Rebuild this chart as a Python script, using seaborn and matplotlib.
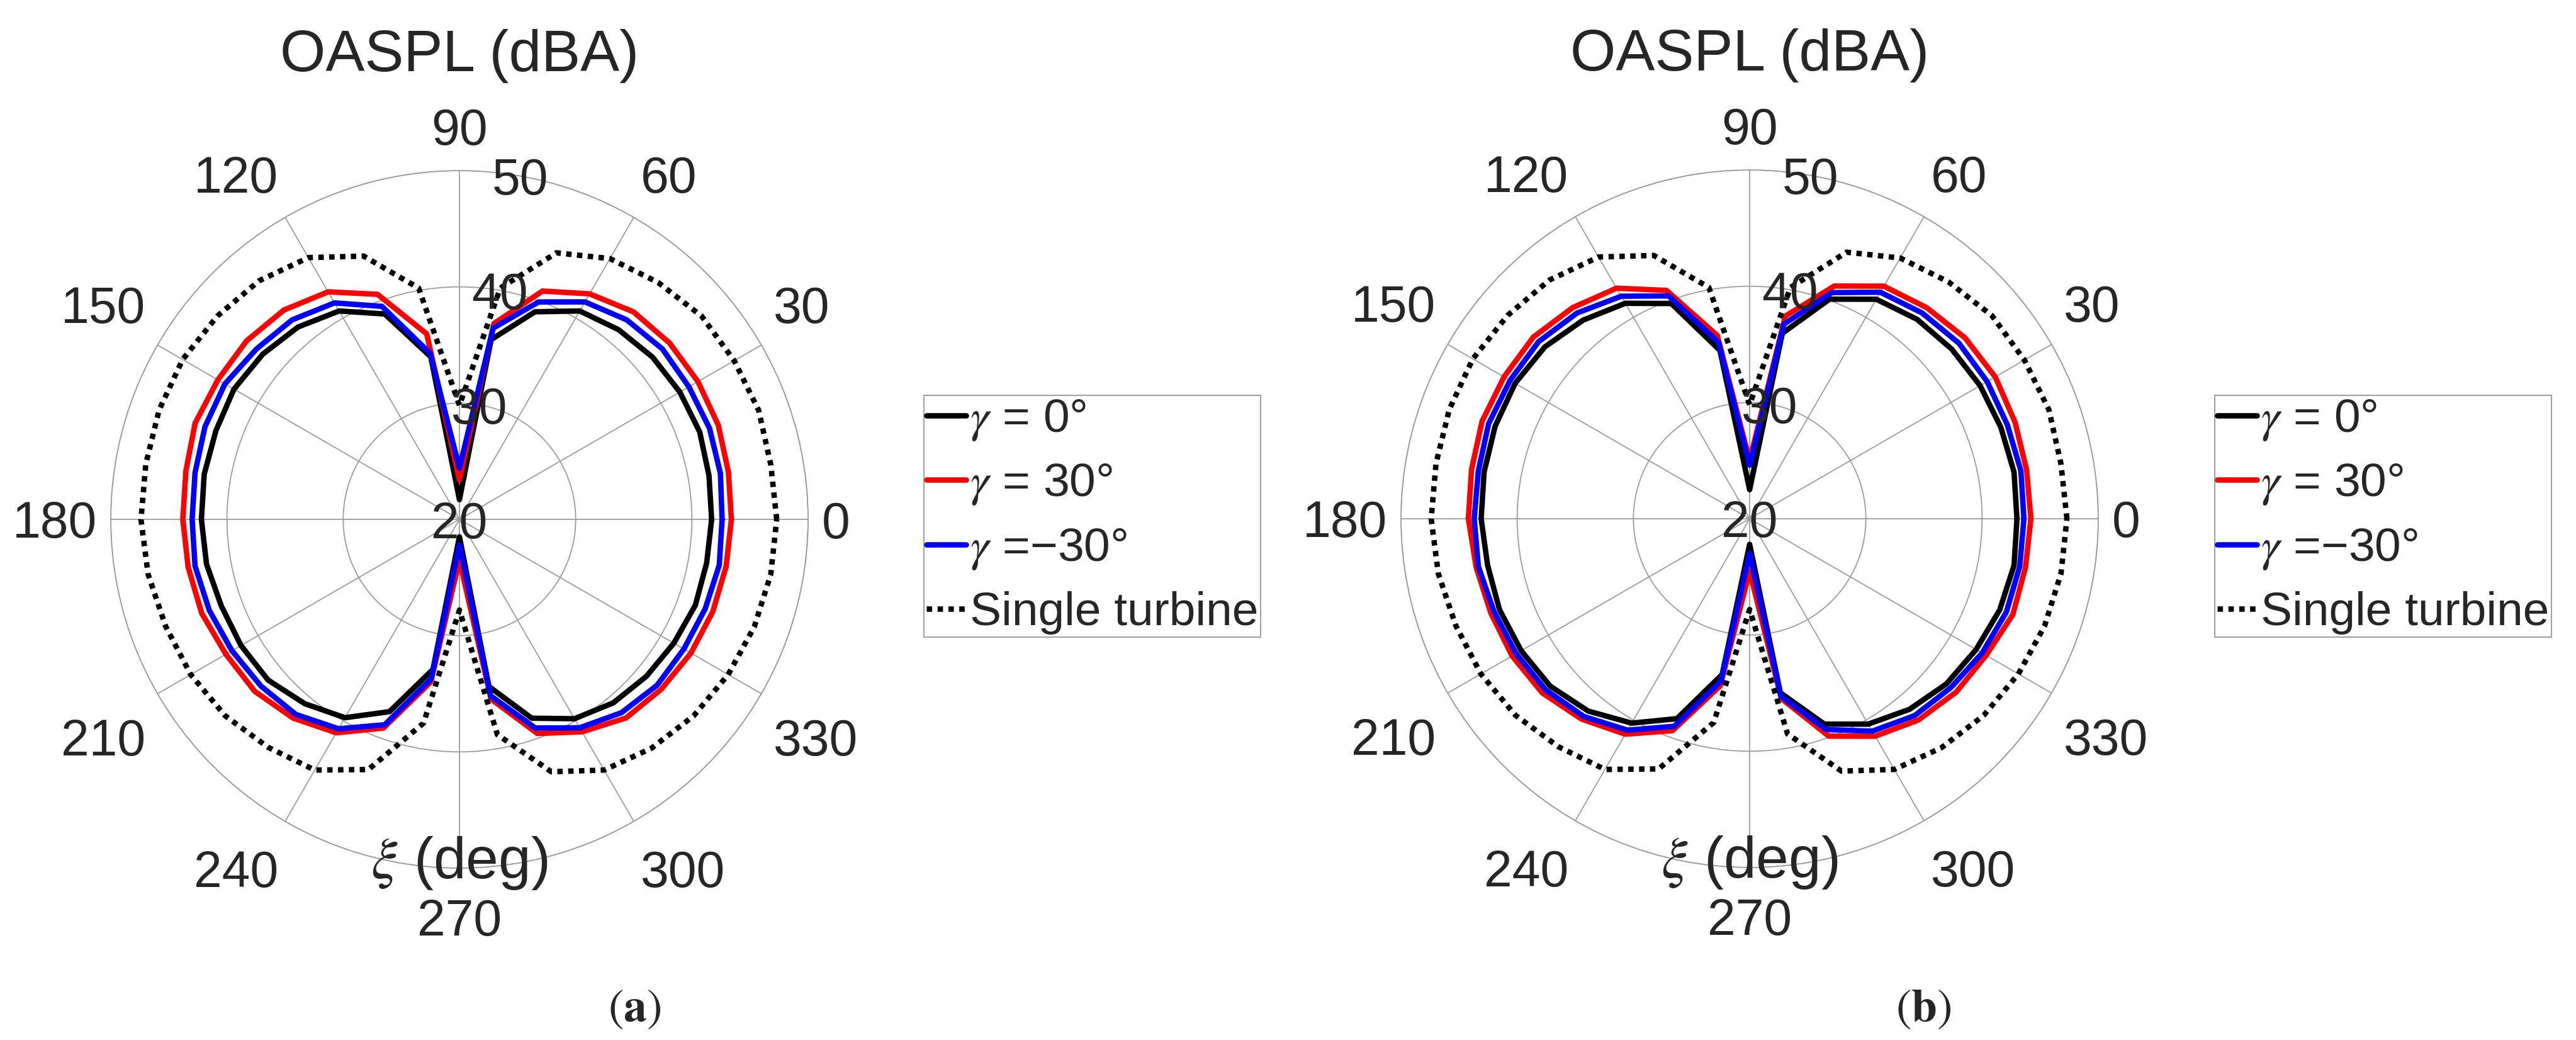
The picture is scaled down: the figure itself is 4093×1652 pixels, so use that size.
import numpy as np
import seaborn as sns
import matplotlib.pyplot as plt

# Observer angle xi (deg), sampled every 10 deg
xi_deg = np.arange(0, 361, 10)

# Panel (a): OASPL (dBA)
a_gamma0 = [41.7, 41.8, 42.0, 41.9, 41.7, 41.3, 40.7, 39.0, 35.7, 21.7, 34.2, 38.8, 40.7,
            41.6, 42.1, 42.4, 42.3, 42.3, 42.2, 42.1, 41.8, 41.7, 41.5, 40.7, 39.7, 37.6,
            33.1, 21.5, 34.6, 38.2, 39.8, 40.6, 41.0, 41.3, 41.6, 41.6, 41.7]
a_gamma30 = [43.4, 43.5, 43.7, 43.7, 43.6, 43.3, 42.4, 40.9, 37.1, 23.4, 36.2, 40.6, 42.6,
             43.5, 43.9, 44.0, 44.2, 43.9, 43.8, 43.7, 43.6, 43.2, 43.0, 42.3, 41.2, 39.1,
             34.2, 23.5, 35.7, 39.6, 41.1, 42.3, 42.7, 43.0, 43.2, 43.3, 43.4]
a_gamma_m30 = [42.6, 42.8, 42.9, 42.8, 42.8, 42.4, 41.6, 39.9, 36.7, 24.4, 34.5, 39.5, 41.5,
               42.4, 42.8, 43.3, 43.3, 43.1, 43.0, 43.1, 42.9, 42.6, 42.3, 41.9, 40.8, 38.8,
               33.9, 22.2, 35.4, 39.1, 40.7, 41.7, 42.2, 42.3, 42.5, 42.7, 42.6]

# Panel (b)
b_gamma0 = [43.0, 43.1, 43.0, 42.9, 42.7, 42.4, 41.8, 40.1, 36.2, 22.5, 34.7, 39.7, 41.4,
            42.3, 43.0, 43.3, 43.3, 43.2, 43.1, 42.9, 42.9, 42.7, 42.4, 41.6, 40.3, 38.3,
            33.6, 22.2, 35.2, 38.8, 40.4, 41.4, 42.1, 42.5, 42.9, 43.1, 43.0]
b_gamma30 = [44.2, 44.2, 44.3, 44.4, 44.2, 43.7, 43.1, 41.3, 37.7, 25.0, 36.0, 40.9, 42.9,
             43.7, 44.3, 44.4, 44.5, 44.3, 44.2, 43.9, 43.7, 43.6, 43.3, 42.5, 41.4, 39.4,
             34.6, 24.5, 35.7, 39.9, 41.6, 42.6, 43.2, 43.5, 44.1, 44.1, 44.2]
b_gamma_m30 = [43.6, 43.7, 43.6, 43.6, 43.5, 43.1, 42.5, 40.7, 37.0, 24.6, 35.4, 40.4, 42.1,
               43.1, 43.7, 43.8, 43.9, 43.7, 43.7, 43.7, 43.4, 43.2, 42.9, 42.2, 41.0, 39.0,
               34.2, 23.0, 35.5, 39.3, 41.1, 42.1, 42.6, 43.1, 43.5, 43.6, 43.6]

# Single turbine reference (same in both panels)
single_turbine = [47.3, 47.2, 47.4, 47.3, 47.2, 46.6, 45.9, 44.4, 40.2, 29.8, 40.2, 44.1, 46.0,
                  46.8, 47.2, 47.5, 47.5, 47.4, 47.4, 47.2, 46.9, 46.7, 46.3, 45.6, 44.9, 42.9,
                  37.8, 27.8, 38.8, 43.1, 44.9, 45.7, 46.3, 46.7, 47.0, 47.2, 47.3]

theta_ticks = list(range(0, 360, 30))
r_ticks = [20, 30, 40, 50]
series_labels = ['$\\gamma$ = 0°', '$\\gamma$ = 30°', '$\\gamma$ =\u221230°', 'Single turbine']
series_colors = ['black', 'red', 'blue']
panel_tags = ['(a)', '(b)']

sns.set_style('white')
plt.rcParams['font.family'] = ['Liberation Sans', 'DejaVu Sans']
plt.rcParams['mathtext.fontset'] = 'stix'

W, H = 4093, 1652
fig = plt.figure(figsize=(W / 100, H / 100), dpi=100)

R = 554
centers = [(730, 825), (2780, 824)]
legend_x = [1468, 3519]
tag_x = [1008, 3056]
grid_col = '#9c9c9c'
tick_col = '#262626'
LW = 6.2


def draw_panel(ax, curves, tag, lx, tx):
    th = np.deg2rad(xi_deg)
    for vals, col, lab in zip(curves, series_colors, series_labels[:3]):
        sns.lineplot(x=th, y=vals, ax=ax, color=col, lw=LW, label=lab,
                     sort=False, estimator=None)
    sns.lineplot(x=th, y=single_turbine, ax=ax, color='black', lw=LW,
                 linestyle=(0, (1, 1)), label=series_labels[3],
                 sort=False, estimator=None)

    ax.set_ylim(20, 50)
    ax.set_xticks(np.deg2rad(theta_ticks))
    ax.set_yticks(r_ticks)
    ax.set_xticklabels([])
    ax.set_yticklabels([])
    ax.set_xlabel('')
    ax.set_ylabel('')
    ax.tick_params(length=0)
    ax.grid(True, color=grid_col, lw=1.3)
    ax.spines['polar'].set_color(grid_col)
    ax.spines['polar'].set_linewidth(1.3)

    # angle labels outside the circle
    for t in theta_ticks:
        c, s = np.cos(np.deg2rad(t)), np.sin(np.deg2rad(t))
        ha = 'center' if abs(c) < 0.1 else ('left' if c > 0 else 'right')
        if abs(s) < 0.1:
            va, dy = 'center_baseline', 0
        elif s > 0:
            va, dy = 'bottom', 13 + 11 * s
        else:
            va, dy = 'top', -(30 + 18 * abs(s))
        ax.annotate(str(t), xy=(np.deg2rad(t), 50), xytext=(22 * c, dy),
                    textcoords='offset pixels', ha=ha, va=va, fontsize=58,
                    color=tick_col, annotation_clip=False)

    # radial labels along 80 deg
    for r in r_ticks:
        ax.text(np.deg2rad(80), r, str(r), ha='center', va='center_baseline',
                fontsize=58, color=tick_col)

    ax.set_title('OASPL (dBA)', fontsize=67, y=1.143, pad=0)
    ax.text(0.5, -0.014, '$\\xi$ (deg)', transform=ax.transAxes, ha='center',
            va='baseline', fontsize=67)

    leg = ax.legend(loc='upper left', bbox_to_anchor=(lx / W, 1 - 628 / H),
                    bbox_transform=fig.transFigure, borderaxespad=0, fontsize=54,
                    frameon=True, fancybox=False, edgecolor='#a0a0a0', framealpha=1,
                    handlelength=0.84, handletextpad=0.08, borderpad=0.05,
                    labelspacing=0.42)
    leg.get_frame().set_linewidth(1.5)

    fig.text(tx / W, 1 - 1622 / H, '$(\\mathbf{' + tag[1] + '})$', ha='center',
             va='baseline', fontsize=53)


panels = [(a_gamma0, a_gamma30, a_gamma_m30), (b_gamma0, b_gamma30, b_gamma_m30)]
for (cx, cy), curves, tag, lx, tx in zip(centers, panels, panel_tags, legend_x, tag_x):
    rect = [(cx - R) / W, (H - cy - R) / H, 2 * R / W, 2 * R / H]
    ax = fig.add_axes(rect, projection='polar')
    draw_panel(ax, curves, tag, lx, tx)

fig.savefig('out.png', dpi=100, facecolor='white')
